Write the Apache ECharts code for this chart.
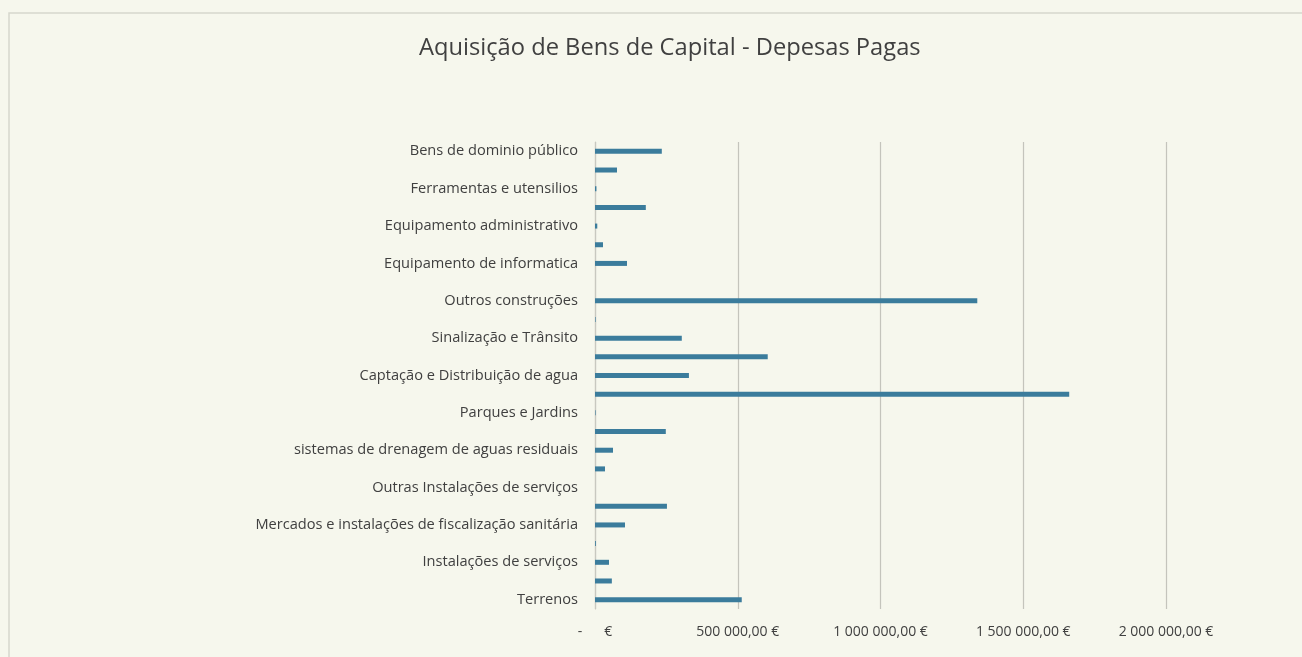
<!DOCTYPE html>
<html>
<head>
<meta charset="utf-8">
<script src="https://cdn.jsdelivr.net/npm/echarts@6/dist/echarts.min.js"></script>
<style>
  html, body { margin: 0; padding: 0; background: #f6f7ed; }
  #chart { width: 1302px; height: 657px; }
</style>
</head>
<body>
<div id="chart"></div>
<script>
// Capital goods acquisition, paid expenses by heading (bottom to top)
const categories = [
  'Terrenos',
  'Habitações',
  'Instalações de serviços',
  'Edifícios escolares',
  'Mercados e instalações de fiscalização sanitária',
  'Instalações desportivas e recreativas',
  'Outras Instalações de serviços',
  'Cemitérios',
  'sistemas de drenagem de aguas residuais',
  'Resíduos sólidos',
  'Parques e Jardins',
  'Viadutos, arruamentos e obras complementares',
  'Captação e Distribuição de agua',
  'Iluminação pública',
  'Sinalização e Trânsito',
  'Outras construções diversas',
  'Outros construções',
  'Material de transporte',
  'Equipamento de informatica',
  'Software informático',
  'Equipamento administrativo',
  'Equipamento básico',
  'Ferramentas e utensilios',
  'Outros investimentos',
  'Bens de dominio público'
];

const paid = [
  514000, 59000, 49000, 3000, 105000,
  252000, 0, 35000, 63000, 248000,
  2000, 1661000, 329000, 605000, 304000,
  2000, 1339000, 0, 112000, 28000,
  8000, 178000, 5000, 77000, 234000
];

const xTicks = { min: 0, max: 2000000, step: 500000 };

function euro(v) {
  if (v === 0) return '-      €';
  const [int, dec] = v.toFixed(2).split('.');
  return int.replace(/\B(?=(\d{3})+(?!\d))/g, ' ') + ',' + dec + ' €';
}

const chart = echarts.init(document.getElementById('chart'));
chart.setOption({
  backgroundColor: '#f6f7ed',
  animation: false,
  textStyle: { fontFamily: '"Open Sans", sans-serif' },
  title: {
    text: 'Aquisição de Bens de Capital - Depesas Pagas',
    left: 414,
    top: 31,
    textStyle: {
      fontSize: 23.7,
      fontWeight: 'normal',
      color: '#404040',
      fontFamily: '"Open Sans", sans-serif'
    }
  },
  graphic: [{
    type: 'rect',
    shape: { x: 9, y: 13, width: 1300, height: 660 },
    style: { fill: 'none', stroke: '#d6d7cd', lineWidth: 1.5 },
    silent: true
  }],
  grid: { left: 595, right: 136, top: 142, bottom: 48, containLabel: false },
  xAxis: {
    type: 'value',
    min: xTicks.min,
    max: xTicks.max,
    interval: xTicks.step,
    axisLine: { show: false },
    axisTick: { show: false },
    splitLine: { show: true, lineStyle: { color: '#c4c4bc', width: 1.2 } },
    axisLabel: {
      formatter: euro,
      margin: 16,
      fontSize: 14,
      color: '#404040',
      fontFamily: '"Open Sans", sans-serif'
    }
  },
  yAxis: {
    type: 'category',
    data: categories,
    axisLine: { show: true, lineStyle: { color: '#c8c8c0', width: 1.2 } },
    axisTick: { show: false },
    axisLabel: {
      interval: 1,
      fontSize: 14.6,
      color: '#404040',
      margin: 17,
      fontFamily: '"Open Sans", sans-serif'
    }
  },
  series: [{
    type: 'bar',
    data: paid,
    barWidth: 5,
    itemStyle: { color: '#3b7c9c' }
  }]
});
</script>
</body>
</html>
